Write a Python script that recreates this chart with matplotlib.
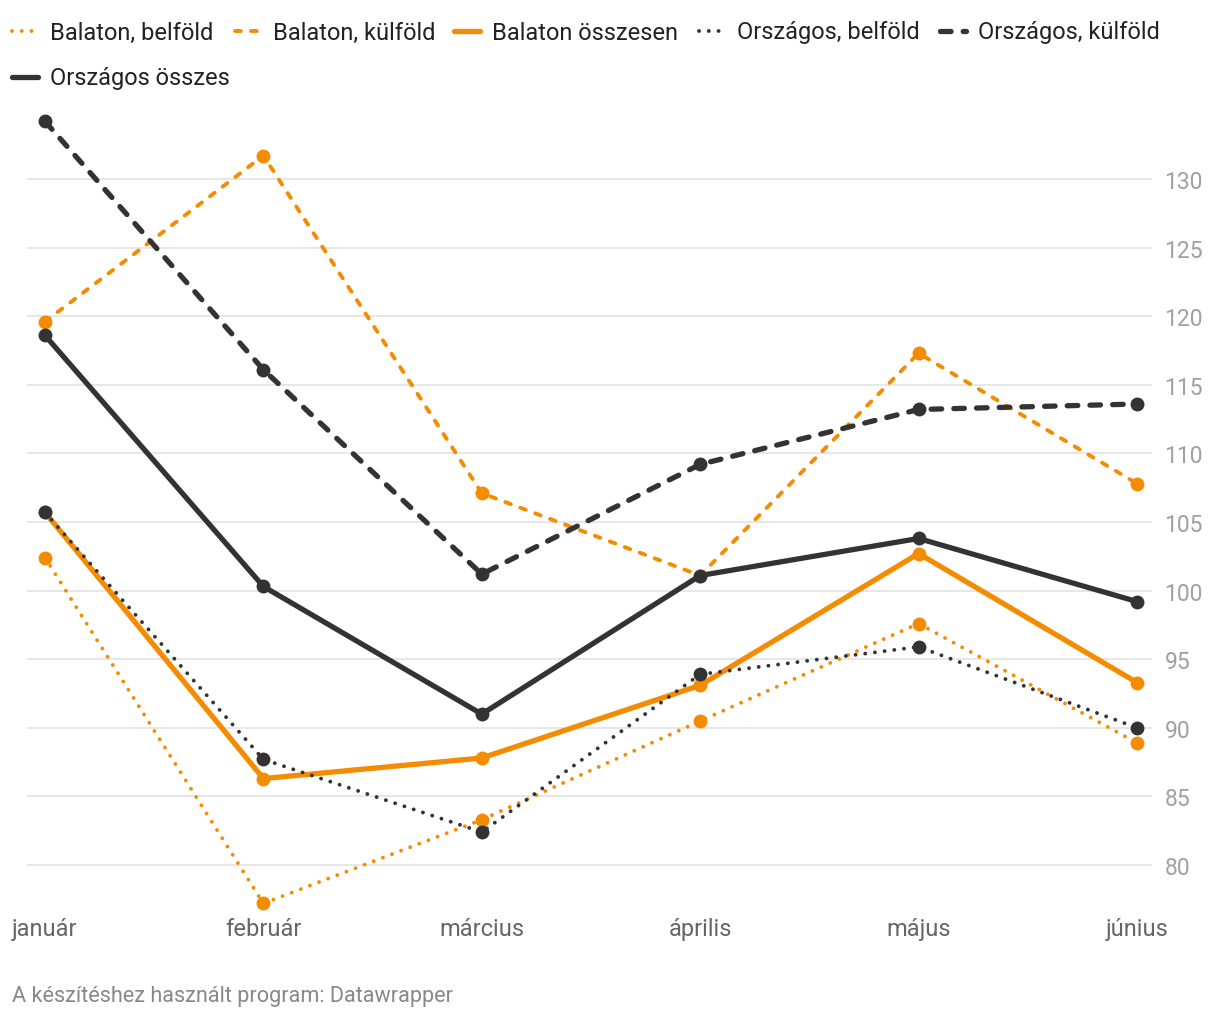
import matplotlib
matplotlib.use("Agg")
import matplotlib.pyplot as plt
from matplotlib.lines import Line2D

plt.rcParams["font.family"] = ["Roboto", "DejaVu Sans"]

months = ["január", "február", "március", "április", "május", "június"]

balaton_belfold = [102.4, 77.2, 83.3, 90.5, 97.6, 88.9]
balaton_kulfold = [119.6, 131.7, 107.1, 101.1, 117.3, 107.8]
balaton_osszesen = [105.7, 86.3, 87.8, 93.1, 102.7, 93.3]
orszagos_belfold = [105.7, 87.7, 82.4, 93.9, 95.9, 90.0]
orszagos_kulfold = [134.2, 116.1, 101.2, 109.2, 113.2, 113.6]
orszagos_osszes = [118.6, 100.3, 91.0, 101.1, 103.8, 99.2]

y_ticks = [80, 85, 90, 95, 100, 105, 110, 115, 120, 125, 130]
footer = "A készítéshez használt program: Datawrapper"

ORANGE = "#f58b00"
DARK = "#333333"

# label, values, color, linewidth, dashes (None = solid)
series = [
    ("Balaton, belföld", balaton_belfold, ORANGE, 2.8, (0.01, 2.5)),
    ("Balaton, külföld", balaton_kulfold, ORANGE, 2.8, (1.5, 2.6)),
    ("Balaton összesen", balaton_osszesen, ORANGE, 3.8, None),
    ("Országos, belföld", orszagos_belfold, DARK, 2.8, (0.01, 2.5)),
    ("Országos, külföld", orszagos_kulfold, DARK, 3.8, (2.0, 2.3)),
    ("Országos összes", orszagos_osszes, DARK, 3.8, None),
]

W, H = 1220, 1020
fig = plt.figure(figsize=(W / 100, H / 100), dpi=100)

# axes box in pixels
ax_l, ax_r, ax_t, ax_b = 27, 1152, 100, 915
ax = fig.add_axes([ax_l / W, 1 - ax_b / H, (ax_r - ax_l) / W, (ax_b - ax_t) / H])

x = list(range(len(months)))
for label, vals, color, lw, dashes in series:
    line, = ax.plot(x, vals, color=color, lw=lw, marker="o", markersize=10,
                    markeredgewidth=0, solid_capstyle="round", label=label)
    if dashes is not None:
        line.set_dashes(dashes)
        line.set_dash_capstyle("round")

ax.set_xlim(-0.0824, 5.0687)
ax.set_ylim(76.43, 135.83)
for v in y_ticks:
    ax.axhline(v, color="#e3e3e3", lw=1.2, zorder=0)

for s in ax.spines.values():
    s.set_visible(False)
ax.set_xticks([])
ax.yaxis.tick_right()
ax.set_yticks(y_ticks)
ax.set_yticklabels([str(v) for v in y_ticks])
ax.tick_params(axis="y", length=0, pad=9, labelsize=16.5, labelcolor="#a0a0a0")

for i, m in enumerate(months):
    ax.annotate(m, xy=(i, 0), xycoords=("data", "figure fraction"),
                xytext=(0, (H - 930) / 100 * 72), textcoords="offset points",
                ha="center", va="center", fontsize=17, color="#666666")

# legend drawn by hand, Datawrapper style
leg_pos = [(10, 32), (233, 32), (452, 32), (697, 32), (938, 32), (10, 78)]
for (label, vals, color, lw, dashes), (lx, ly) in zip(series, leg_pos):
    yy = 1 - ly / H
    ln = Line2D([(lx + 2) / W, (lx + 28) / W], [yy, yy], transform=fig.transFigure,
                color=color, lw=lw, solid_capstyle="round")
    if dashes is not None:
        ln.set_dashes(dashes)
        ln.set_dash_capstyle("round")
    fig.add_artist(ln)
    fig.text((lx + 40) / W, yy - 1 / H, label, ha="left", va="center",
             fontsize=17, color="#222222")

fig.text(12 / W, 1 - 997 / H, footer, ha="left", va="center",
         fontsize=15.6, color="#888888")

fig.savefig("out.png", dpi=100)
